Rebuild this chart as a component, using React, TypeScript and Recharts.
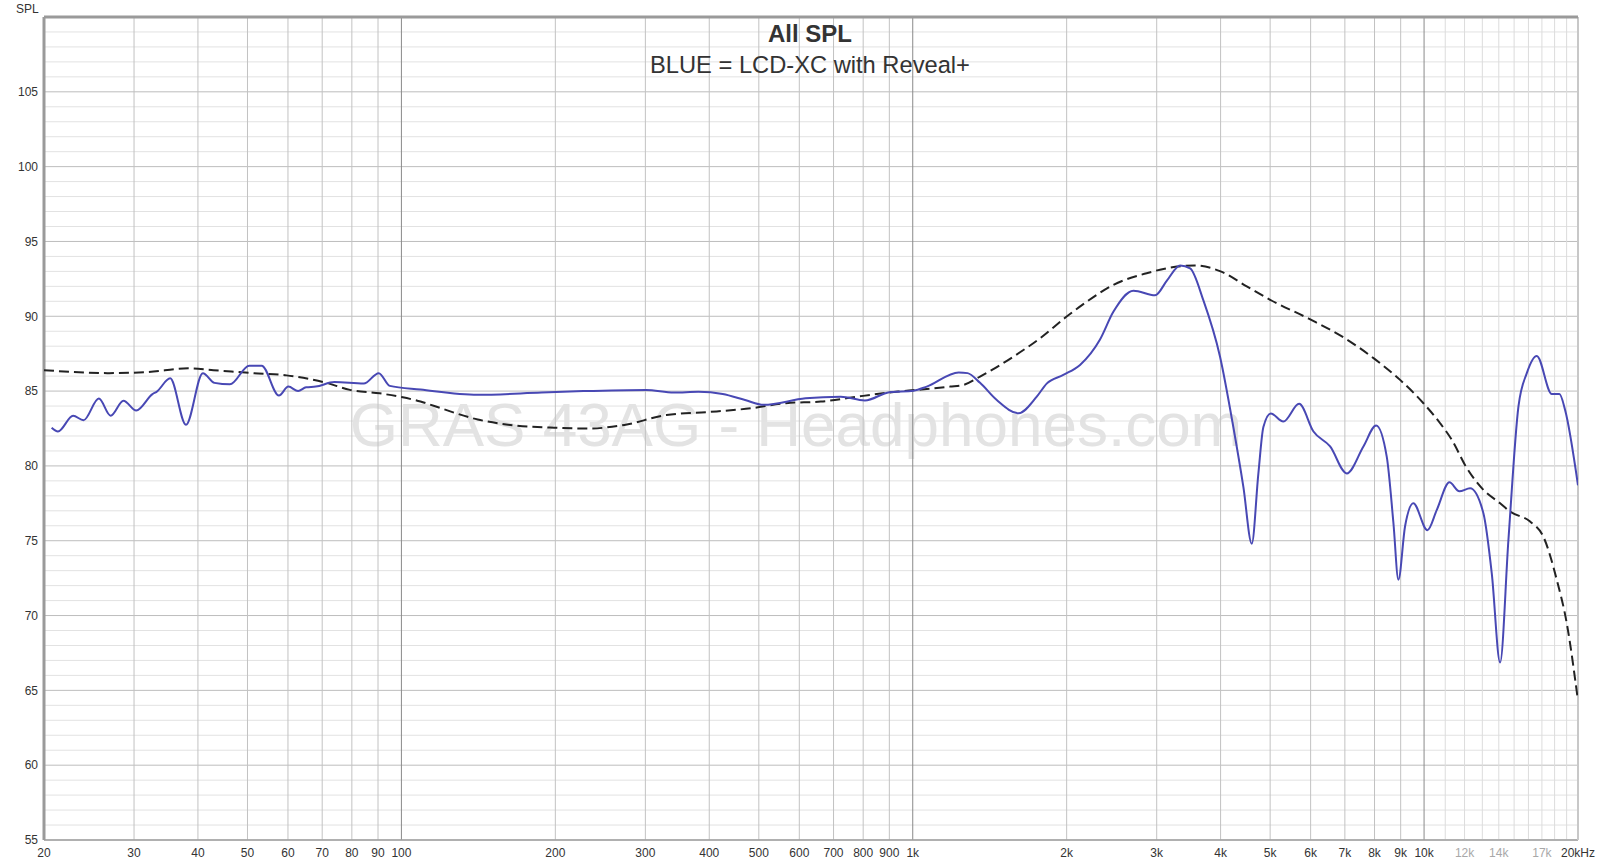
import React from "react";
import {
  LineChart,
  Line,
  XAxis,
  YAxis,
  CartesianGrid,
  ReferenceLine,
} from "recharts";

// measured response, LCD-XC with Reveal+ (Hz, dB SPL)
const blueFreq = [
  20.7, 21.3, 22.8, 23.9, 25.6, 27.0, 28.6, 30.3, 32.6, 33.2, 35.3, 37.9, 40.9, 43.1, 46.2,
  50.4, 53.3, 57.6, 60.1, 62.8, 65.1, 68.0, 74.0, 84.4, 90.3, 94.9, 109, 141, 188, 227, 301,
  341, 381, 425, 470, 511, 617, 723, 806, 900, 1004, 1065, 1230, 1280, 1354, 1460, 1610,
  1748, 1828, 1970, 2124, 2324, 2468, 2702, 2978, 3143, 3334, 3487, 3702, 3990, 4236, 4432,
  4603, 4742, 4850, 5013, 5306, 5697, 6077, 6550, 7060, 7610, 8058, 8454, 8710, 8908, 9178,
  9528, 10152, 10590, 11210, 11722, 12302, 13062, 13566, 14083, 14620, 15294, 15882, 16612,
  17776, 18392, 18872, 20000,
];
const blueDb = [
  82.55, 82.3, 83.35, 83.05, 84.5, 83.35, 84.35, 83.7, 84.8, 84.95, 85.85, 82.75, 86.2, 85.55,
  85.45, 86.7, 86.7, 84.7, 85.3, 85.0, 85.25, 85.3, 85.6, 85.5, 86.2, 85.35, 85.1, 84.75, 84.9,
  85.0, 85.08, 84.9, 84.95, 84.8, 84.4, 84.08, 84.52, 84.63, 84.37, 84.93, 85.03, 85.3, 86.25,
  86.2, 85.55, 84.4, 83.52, 84.63, 85.5, 86.08, 86.75, 88.45, 90.3, 91.71, 91.4, 92.4, 93.4,
  93.2, 91.06, 87.3, 82.6, 78.6, 74.8, 79.5, 82.6, 83.5, 82.96, 84.15, 82.3, 81.3, 79.5, 81.3,
  82.7, 80.6, 76.2, 72.4, 75.95, 77.5, 75.7, 77.06, 78.9, 78.3, 78.5, 76.84, 72.8, 66.86, 75.05,
  83.96, 86.2, 87.35, 84.8, 84.8, 83.74, 78.7,
];

// target curve (dashed)
const targetFreq = [
  20, 26.6, 31.8, 38.3, 42.9, 51.3, 59.6, 71.4, 79.3, 90.7, 100, 109, 116, 141, 167, 199, 233,
  273, 330, 399, 482, 565, 661, 800, 936, 1018, 1183, 1256, 1354, 1573, 1774, 2000, 2190, 2468,
  2868, 3284, 3560, 4000, 4500, 5000, 5950, 6950, 8000, 8976, 9970, 10750, 11330, 12100, 13062,
  14083, 14730, 16118, 17112, 18180, 19014, 19950,
];
const targetDb = [
  86.4, 86.2, 86.27, 86.52, 86.4, 86.2, 86.05, 85.55, 85.08, 84.85, 84.6, 84.3, 84.0, 83.1, 82.7,
  82.55, 82.5, 82.74, 83.4, 83.6, 83.85, 84.19, 84.3, 84.68, 84.97, 85.08, 85.3, 85.41, 85.97,
  87.3, 88.53, 89.98, 90.98, 92.1, 92.88, 93.32, 93.4, 93.0, 92.0, 91.1, 89.84, 88.6, 87.15,
  85.75, 84.19, 82.85, 81.74, 79.9, 78.4, 77.5, 76.95, 76.28, 75.27, 72.38, 69.48, 64.58,
];

const freqTicks = [
  20, 30, 40, 50, 60, 70, 80, 90, 100, 200, 300, 400, 500, 600, 700, 800, 900, 1000, 2000, 3000,
  4000, 5000, 6000, 7000, 8000, 9000, 10000, 12000, 14000, 17000, 20000,
];
const fadedTicks = [12000, 14000, 17000];
const dbTicks = [55, 60, 65, 70, 75, 80, 85, 90, 95, 100, 105];

const decadeLines = [100, 1000, 10000];
const gridFreqs = [
  30, 40, 50, 60, 70, 80, 90, 200, 300, 400, 500, 600, 700, 800, 900, 2000, 3000, 4000, 5000,
  6000, 7000, 8000, 9000,
];
const fineFreqs = [11000, 12000, 13000, 14000, 15000, 16000, 17000, 18000, 19000];
const minorDb = Array.from({ length: 54 }, (_, i) => 56 + i).filter(v => v % 5 !== 0);

const blueData = blueFreq.map((f, i) => ({ f, db: blueDb[i] }));
const targetData = targetFreq.map((f, i) => ({ f, db: targetDb[i] }));

const FONT = "'Liberation Sans', Arial, sans-serif";

const freqLabel = (f: number) => {
  if (f === 20000) return "20kHz";
  if (f >= 1000) return f / 1000 + "k";
  return String(f);
};

const FreqTick = (props: any) => {
  const { x, y, payload } = props;
  const faded = fadedTicks.includes(payload.value);
  return (
    <text
      x={x}
      y={y}
      dy="0.71em"
      textAnchor="middle"
      fontSize={12}
      fontFamily={FONT}
      fill={faded ? "#a8a8a8" : "#333"}
    >
      {freqLabel(payload.value)}
    </text>
  );
};

const DbTick = (props: any) => {
  const { x, y, payload } = props;
  return (
    <text x={x} y={y} dy="0.355em" textAnchor="end" fontSize={12} fontFamily={FONT} fill="#333">
      {payload.value}
    </text>
  );
};

const App: React.FC = () => {
  return (
    <div
      style={{
        position: "absolute",
        left: 0,
        top: 0,
        width: 1600,
        height: 864,
        background: "#fff",
        fontFamily: FONT,
      }}
    >
      <svg width={1600} height={864} style={{ position: "absolute", left: 0, top: 0 }}>
        <text
          x={796}
          y={446}
          textAnchor="middle"
          fontSize={62}
          fontFamily={FONT}
          fill="#e3e3e3"
        >
          GRAS 43AG - Headphones.com
        </text>
      </svg>
      <div style={{ position: "absolute", left: 0, top: 0 }}>
        <LineChart
          width={1600}
          height={864}
          margin={{ top: 17, right: 22, left: 0, bottom: 0 }}
        >
          <CartesianGrid
            horizontal={true}
            vertical={false}
            horizontalValues={minorDb}
            stroke="#e2e2e2"
          />
          <CartesianGrid
            horizontal={true}
            vertical={false}
            horizontalValues={dbTicks}
            stroke="#bdbdbd"
          />
          <CartesianGrid
            horizontal={false}
            vertical={true}
            verticalValues={fineFreqs}
            stroke="#dcdcdc"
          />
          <CartesianGrid
            horizontal={false}
            vertical={true}
            verticalValues={gridFreqs}
            stroke="#c2c2c2"
          />
          <CartesianGrid
            horizontal={false}
            vertical={true}
            verticalValues={decadeLines}
            stroke="#8a8a8a"
          />
          <XAxis
            dataKey="f"
            type="number"
            scale="log"
            domain={[20, 20000]}
            allowDataOverflow
            ticks={freqTicks}
            interval={0}
            axisLine={false}
            tickLine={false}
            tickSize={6}
            tickMargin={2}
            height={24}
            tick={<FreqTick />}
          />
          <YAxis
            dataKey="db"
            type="number"
            domain={[55, 110]}
            allowDataOverflow
            ticks={dbTicks}
            interval={0}
            axisLine={false}
            tickLine={false}
            tickSize={4}
            tickMargin={2}
            width={44}
            tick={<DbTick />}
          />
          <ReferenceLine y={55} stroke="#a0a0a0" strokeWidth={1.5} />
          <ReferenceLine x={20000} stroke="#c8c8c8" strokeWidth={2} />
          <ReferenceLine y={110} stroke="#9a9a9a" strokeWidth={3} />
          <ReferenceLine x={20} stroke="#9a9a9a" strokeWidth={3} />
          <Line
            data={targetData}
            dataKey="db"
            type="monotone"
            stroke="#222"
            strokeWidth={2}
            strokeDasharray="10 5"
            dot={false}
            activeDot={false}
            isAnimationActive={false}
          />
          <Line
            data={blueData}
            dataKey="db"
            type="monotone"
            stroke="#4848b4"
            strokeWidth={2}
            dot={false}
            activeDot={false}
            isAnimationActive={false}
          />
        </LineChart>
      </div>
      <svg
        width={1600}
        height={864}
        style={{ position: "absolute", left: 0, top: 0, pointerEvents: "none" }}
      >
        <text x={16} y={12.5} fontSize={12} fontFamily={FONT} fill="#333">
          SPL
        </text>
        <text
          x={810}
          y={41.5}
          textAnchor="middle"
          fontSize={24}
          fontWeight="bold"
          fontFamily={FONT}
          fill="#333"
        >
          All SPL
        </text>
        <text x={810} y={72.5} textAnchor="middle" fontSize={23.7} fontFamily={FONT} fill="#333">
          BLUE = LCD-XC with Reveal+
        </text>
      </svg>
    </div>
  );
};

export default App;
